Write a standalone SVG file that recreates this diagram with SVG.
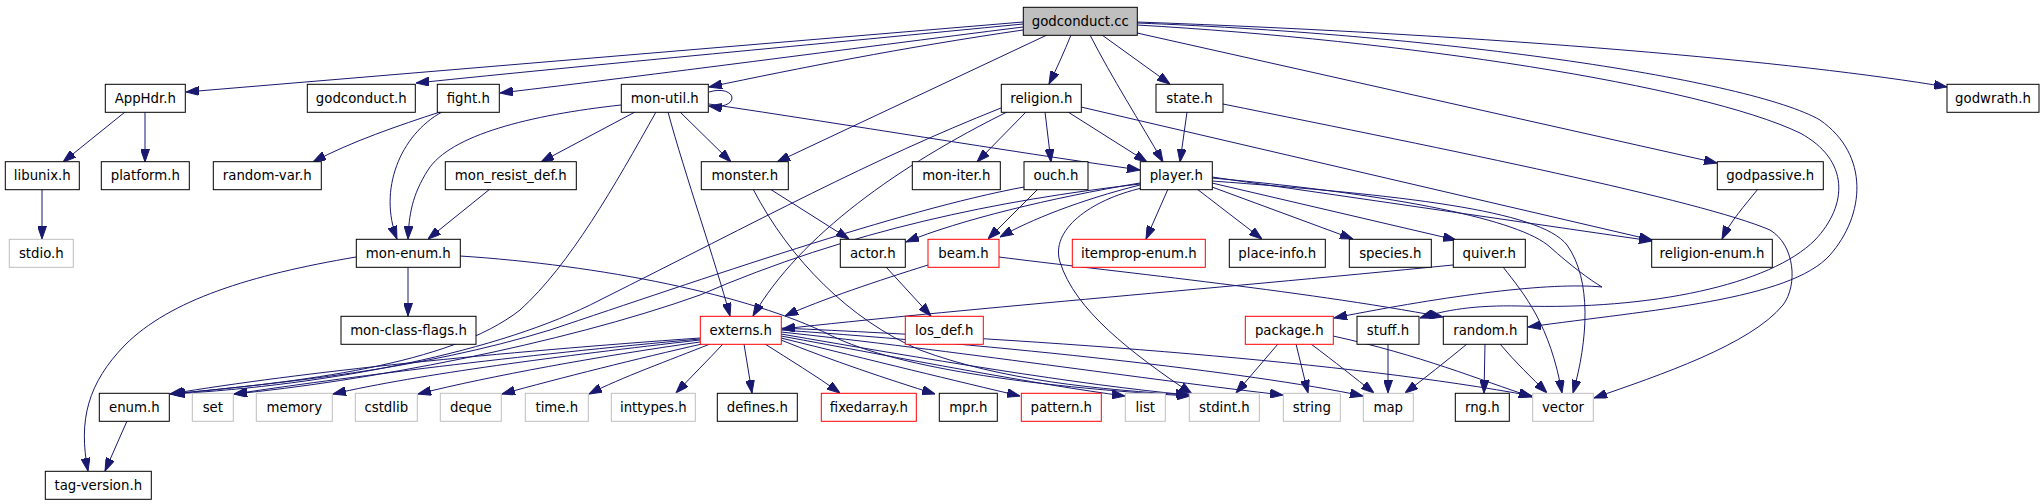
<svg xmlns="http://www.w3.org/2000/svg" width="2043" height="504" viewBox="0 0 2043 504">
<style>
.n rect{fill:#fff;stroke:#000;stroke-width:1}
.n.r rect{stroke:#ff0000}
.n.g rect{stroke:#bfbfbf}
.n.root rect{fill:#bfbfbf}
.n text{font-family:"DejaVu Sans","Liberation Sans",sans-serif;font-size:13.3px;text-anchor:middle;fill:#000}
#edges path{fill:none;stroke:#191970;stroke-width:1;marker-end:url(#a)}
</style>
<defs>
<marker id="a" viewBox="0 0 13 9" refX="13" refY="4.5" markerWidth="13" markerHeight="9" markerUnits="userSpaceOnUse" orient="auto">
<path d="M0,0 L13,4.5 L0,9 z" fill="#191970" stroke="#191970" stroke-width="1"/>
</marker>
</defs>
<rect x="0" y="0" width="2043" height="504" fill="#fff"/>
<g id="edges">
<path d="M1023,22 L186,92"/>
<path d="M1023,24 C820,44 600,64 416,83"/>
<path d="M1023,27 C840,50 660,74 500,93"/>
<path d="M1023,30 C900,48 800,68 709,87"/>
<path d="M709,92 C722,88 732,92 732,98 C732,104 722,108 709,106"/>
<path d="M1047,35 L777,162"/>
<path d="M1071,35 C1064,52 1057,68 1049,84"/>
<path d="M1090,35 C1112,78 1140,122 1163,162"/>
<path d="M1102,35 L1170,84"/>
<path d="M1137,22 C1500,35 1800,62 1947,87"/>
<path d="M1137,33 L1717,163"/>
<path d="M1137,25 C1400,40 1700,85 1800,133 C1850,160 1848,205 1815,240 C1770,285 1650,310 1520,306 C1475,305 1445,310 1420,318"/>
<path d="M1137,23 C1450,35 1750,80 1820,120 C1870,155 1865,215 1830,255 C1790,300 1650,310 1528,327"/>
<path d="M125,112 L63,162"/>
<path d="M145,112 L145,162"/>
<path d="M42,189 L42,239"/>
<path d="M440,112 C400,125 350,142 313,162"/>
<path d="M442,112 C400,135 378,190 397,239"/>
<path d="M621,105 C530,115 450,135 428,170 C412,195 409,215 408,239"/>
<path d="M635,112 L541,162"/>
<path d="M680,112 L731,162"/>
<path d="M709,104 C850,125 1000,150 1140,170"/>
<path d="M668,112 C685,175 715,260 730,316"/>
<path d="M656,112 C615,185 570,265 520,310 C450,365 300,382 170,394"/>
<path d="M490,189 L428,239"/>
<path d="M408,267 L408,316"/>
<path d="M356,257 C250,275 170,300 125,345 C88,383 78,420 88,471"/>
<path d="M460,256 C600,265 750,295 830,335 C900,370 1050,388 1190,396"/>
<path d="M127,421 L105,471"/>
<path d="M770,189 L849,239"/>
<path d="M753,189 C790,260 850,320 920,350 C1000,380 1100,390 1190,395"/>
<path d="M886,267 L931,316"/>
<path d="M1026,112 L977,162"/>
<path d="M1045,112 L1051,162"/>
<path d="M1068,112 L1147,162"/>
<path d="M1007,112 C900,165 800,235 753,316"/>
<path d="M1001,108 C870,160 760,220 600,300 C500,352 330,385 172,394"/>
<path d="M1081,107 L1652,240"/>
<path d="M1187,112 L1180,162"/>
<path d="M1223,104 C1450,150 1700,200 1770,230 C1795,245 1798,285 1783,305 C1750,345 1660,375 1594,398"/>
<path d="M1038,189 L988,239"/>
<path d="M1024,187 C900,210 700,280 550,330 C420,370 280,383 172,394"/>
<path d="M1140,183 C1050,198 960,220 906,242"/>
<path d="M1140,185 C1080,200 1030,220 1000,237"/>
<path d="M1140,184 C1000,200 850,230 700,295 C560,345 360,382 234,394"/>
<path d="M1142,188 C1090,200 1050,230 1060,262 C1075,310 1130,352 1192,394"/>
<path d="M1168,189 L1146,239"/>
<path d="M1197,189 L1262,239"/>
<path d="M1212,187 L1353,239"/>
<path d="M1212,183 L1456,240"/>
<path d="M1212,177 L1652,241"/>
<path d="M1212,178 C1400,195 1520,220 1550,247 C1570,265 1590,280 1602,287 C1550,282 1450,295 1334,318"/>
<path d="M1212,181 C1400,195 1540,210 1567,245 C1592,280 1588,340 1573,393"/>
<path d="M1453,265 C1200,290 950,310 782,329"/>
<path d="M1503,267 C1525,295 1550,325 1562,393"/>
<path d="M928,265 C880,280 820,300 785,316"/>
<path d="M999,257 C1100,270 1300,290 1443,317"/>
<path d="M1278,344 L1236,393"/>
<path d="M1296,344 L1308,393"/>
<path d="M1311,344 C1335,362 1355,378 1374,393"/>
<path d="M1333,336 C1420,355 1480,380 1532,397"/>
<path d="M1388,344 L1388,393"/>
<path d="M1467,344 C1445,362 1425,378 1405,393"/>
<path d="M1485,344 L1484,393"/>
<path d="M1500,344 C1515,362 1532,378 1547,393"/>
<path d="M1758,189 C1745,205 1730,222 1722,239"/>
<path d="M700,338 C500,352 300,372 170,394"/>
<path d="M700,339 C520,355 340,378 234,394"/>
<path d="M700,340 C560,356 420,374 333,394"/>
<path d="M700,342 C600,356 490,376 418,394"/>
<path d="M702,344 C640,358 560,378 502,394"/>
<path d="M710,344 C670,360 620,378 589,394"/>
<path d="M723,344 C708,360 690,378 676,393"/>
<path d="M744,344 L752,393"/>
<path d="M765,344 C790,360 815,375 840,393"/>
<path d="M781,340 C830,360 890,380 935,394"/>
<path d="M781,338 C870,360 960,382 1020,396"/>
<path d="M781,336 C900,358 1040,385 1125,396"/>
<path d="M781,334 C920,358 1080,385 1189,395"/>
<path d="M781,332 C950,350 1150,380 1283,395"/>
<path d="M781,330 C1000,345 1250,372 1363,396"/>
<path d="M781,328 C1050,340 1350,362 1532,396"/>
</g>
<g id="n_godconduct_cc" class="n root"><rect x="1023.3" y="7.3" width="114" height="28"/><text x="1080.3" y="25.8">godconduct.cc</text></g>
<g id="n_AppHdr_h" class="n"><rect x="105.3" y="84.3" width="80" height="28"/><text x="145.3" y="102.8">AppHdr.h</text></g>
<g id="n_godconduct_h" class="n"><rect x="307.3" y="84.3" width="108" height="28"/><text x="361.3" y="102.8">godconduct.h</text></g>
<g id="n_fight_h" class="n"><rect x="437.3" y="84.3" width="62" height="28"/><text x="468.3" y="102.8">fight.h</text></g>
<g id="n_mon_util_h" class="n"><rect x="621.3" y="84.3" width="87" height="28"/><text x="664.8" y="102.8">mon-util.h</text></g>
<g id="n_religion_h" class="n"><rect x="1001.3" y="84.3" width="80" height="28"/><text x="1041.3" y="102.8">religion.h</text></g>
<g id="n_state_h" class="n"><rect x="1156" y="84.3" width="67" height="28"/><text x="1189.5" y="102.8">state.h</text></g>
<g id="n_godwrath_h" class="n"><rect x="1947" y="84.3" width="92" height="28"/><text x="1993" y="102.8">godwrath.h</text></g>
<g id="n_libunix_h" class="n"><rect x="5.3" y="161.7" width="74" height="28"/><text x="42.3" y="180.2">libunix.h</text></g>
<g id="n_platform_h" class="n"><rect x="101.3" y="161.7" width="88" height="28"/><text x="145.3" y="180.2">platform.h</text></g>
<g id="n_random_var_h" class="n"><rect x="213.3" y="161.7" width="108" height="28"/><text x="267.3" y="180.2">random-var.h</text></g>
<g id="n_mon_resist_def_h" class="n"><rect x="445.3" y="161.7" width="131" height="28"/><text x="510.8" y="180.2">mon_resist_def.h</text></g>
<g id="n_monster_h" class="n"><rect x="701.3" y="161.7" width="87" height="28"/><text x="744.8" y="180.2">monster.h</text></g>
<g id="n_mon_iter_h" class="n"><rect x="912.3" y="161.7" width="88" height="28"/><text x="956.3" y="180.2">mon-iter.h</text></g>
<g id="n_ouch_h" class="n"><rect x="1024" y="161.7" width="64" height="28"/><text x="1056" y="180.2">ouch.h</text></g>
<g id="n_player_h" class="n"><rect x="1140.3" y="161.7" width="72" height="28"/><text x="1176.3" y="180.2">player.h</text></g>
<g id="n_godpassive_h" class="n"><rect x="1717.3" y="161.7" width="106" height="28"/><text x="1770.3" y="180.2">godpassive.h</text></g>
<g id="n_stdio_h" class="n g"><rect x="9.3" y="239.3" width="64" height="28"/><text x="41.3" y="257.8">stdio.h</text></g>
<g id="n_mon_enum_h" class="n"><rect x="356.3" y="239.3" width="104" height="28"/><text x="408.3" y="257.8">mon-enum.h</text></g>
<g id="n_actor_h" class="n"><rect x="840.3" y="239.3" width="65" height="28"/><text x="872.8" y="257.8">actor.h</text></g>
<g id="n_beam_h" class="n r"><rect x="928" y="239.3" width="71" height="28"/><text x="963.5" y="257.8">beam.h</text></g>
<g id="n_itemprop_enum_h" class="n r"><rect x="1072.3" y="239.3" width="133" height="28"/><text x="1138.8" y="257.8">itemprop-enum.h</text></g>
<g id="n_place_info_h" class="n"><rect x="1229.3" y="239.3" width="96" height="28"/><text x="1277.3" y="257.8">place-info.h</text></g>
<g id="n_species_h" class="n"><rect x="1349.3" y="239.3" width="82" height="28"/><text x="1390.3" y="257.8">species.h</text></g>
<g id="n_quiver_h" class="n"><rect x="1453.3" y="239.3" width="72" height="28"/><text x="1489.3" y="257.8">quiver.h</text></g>
<g id="n_religion_enum_h" class="n"><rect x="1651.7" y="239.3" width="120.6" height="28"/><text x="1712" y="257.8">religion-enum.h</text></g>
<g id="n_mon_class_flags_h" class="n"><rect x="341" y="316.3" width="135" height="28"/><text x="408.5" y="334.8">mon-class-flags.h</text></g>
<g id="n_externs_h" class="n r"><rect x="700.3" y="316.3" width="81" height="28"/><text x="740.8" y="334.8">externs.h</text></g>
<g id="n_los_def_h" class="n r"><rect x="905.3" y="316.3" width="78" height="28"/><text x="944.3" y="334.8">los_def.h</text></g>
<g id="n_package_h" class="n r"><rect x="1245.3" y="316.3" width="88" height="28"/><text x="1289.3" y="334.8">package.h</text></g>
<g id="n_stuff_h" class="n"><rect x="1357" y="316.3" width="62" height="28"/><text x="1388" y="334.8">stuff.h</text></g>
<g id="n_random_h" class="n"><rect x="1443.3" y="316.3" width="84" height="28"/><text x="1485.3" y="334.8">random.h</text></g>
<g id="n_enum_h" class="n"><rect x="99.3" y="393.3" width="70" height="28"/><text x="134.3" y="411.8">enum.h</text></g>
<g id="n_set" class="n g"><rect x="192.3" y="393.3" width="41" height="28"/><text x="212.8" y="411.8">set</text></g>
<g id="n_memory" class="n g"><rect x="256.3" y="393.3" width="76" height="28"/><text x="294.3" y="411.8">memory</text></g>
<g id="n_cstdlib" class="n g"><rect x="355.3" y="393.3" width="62" height="28"/><text x="386.3" y="411.8">cstdlib</text></g>
<g id="n_deque" class="n g"><rect x="440.3" y="393.3" width="61" height="28"/><text x="470.8" y="411.8">deque</text></g>
<g id="n_time_h" class="n g"><rect x="525.3" y="393.3" width="63" height="28"/><text x="556.8" y="411.8">time.h</text></g>
<g id="n_inttypes_h" class="n g"><rect x="611.3" y="393.3" width="84" height="28"/><text x="653.3" y="411.8">inttypes.h</text></g>
<g id="n_defines_h" class="n"><rect x="717.3" y="393.3" width="80" height="28"/><text x="757.3" y="411.8">defines.h</text></g>
<g id="n_fixedarray_h" class="n r"><rect x="821.3" y="393.3" width="95" height="28"/><text x="868.8" y="411.8">fixedarray.h</text></g>
<g id="n_mpr_h" class="n"><rect x="939.3" y="393.3" width="58" height="28"/><text x="968.3" y="411.8">mpr.h</text></g>
<g id="n_pattern_h" class="n r"><rect x="1021.3" y="393.3" width="80" height="28"/><text x="1061.3" y="411.8">pattern.h</text></g>
<g id="n_list" class="n g"><rect x="1125.3" y="393.3" width="40" height="28"/><text x="1145.3" y="411.8">list</text></g>
<g id="n_stdint_h" class="n g"><rect x="1189.3" y="393.3" width="70" height="28"/><text x="1224.3" y="411.8">stdint.h</text></g>
<g id="n_string" class="n g"><rect x="1283.3" y="393.3" width="57" height="28"/><text x="1311.8" y="411.8">string</text></g>
<g id="n_map" class="n g"><rect x="1363.3" y="393.3" width="50" height="28"/><text x="1388.3" y="411.8">map</text></g>
<g id="n_rng_h" class="n"><rect x="1455.3" y="393.3" width="54" height="28"/><text x="1482.3" y="411.8">rng.h</text></g>
<g id="n_vector" class="n g"><rect x="1532.7" y="393.3" width="60.6" height="28"/><text x="1563" y="411.8">vector</text></g>
<g id="n_tag_version_h" class="n"><rect x="45.3" y="471.3" width="106" height="28"/><text x="98.3" y="489.8">tag-version.h</text></g>
</svg>
